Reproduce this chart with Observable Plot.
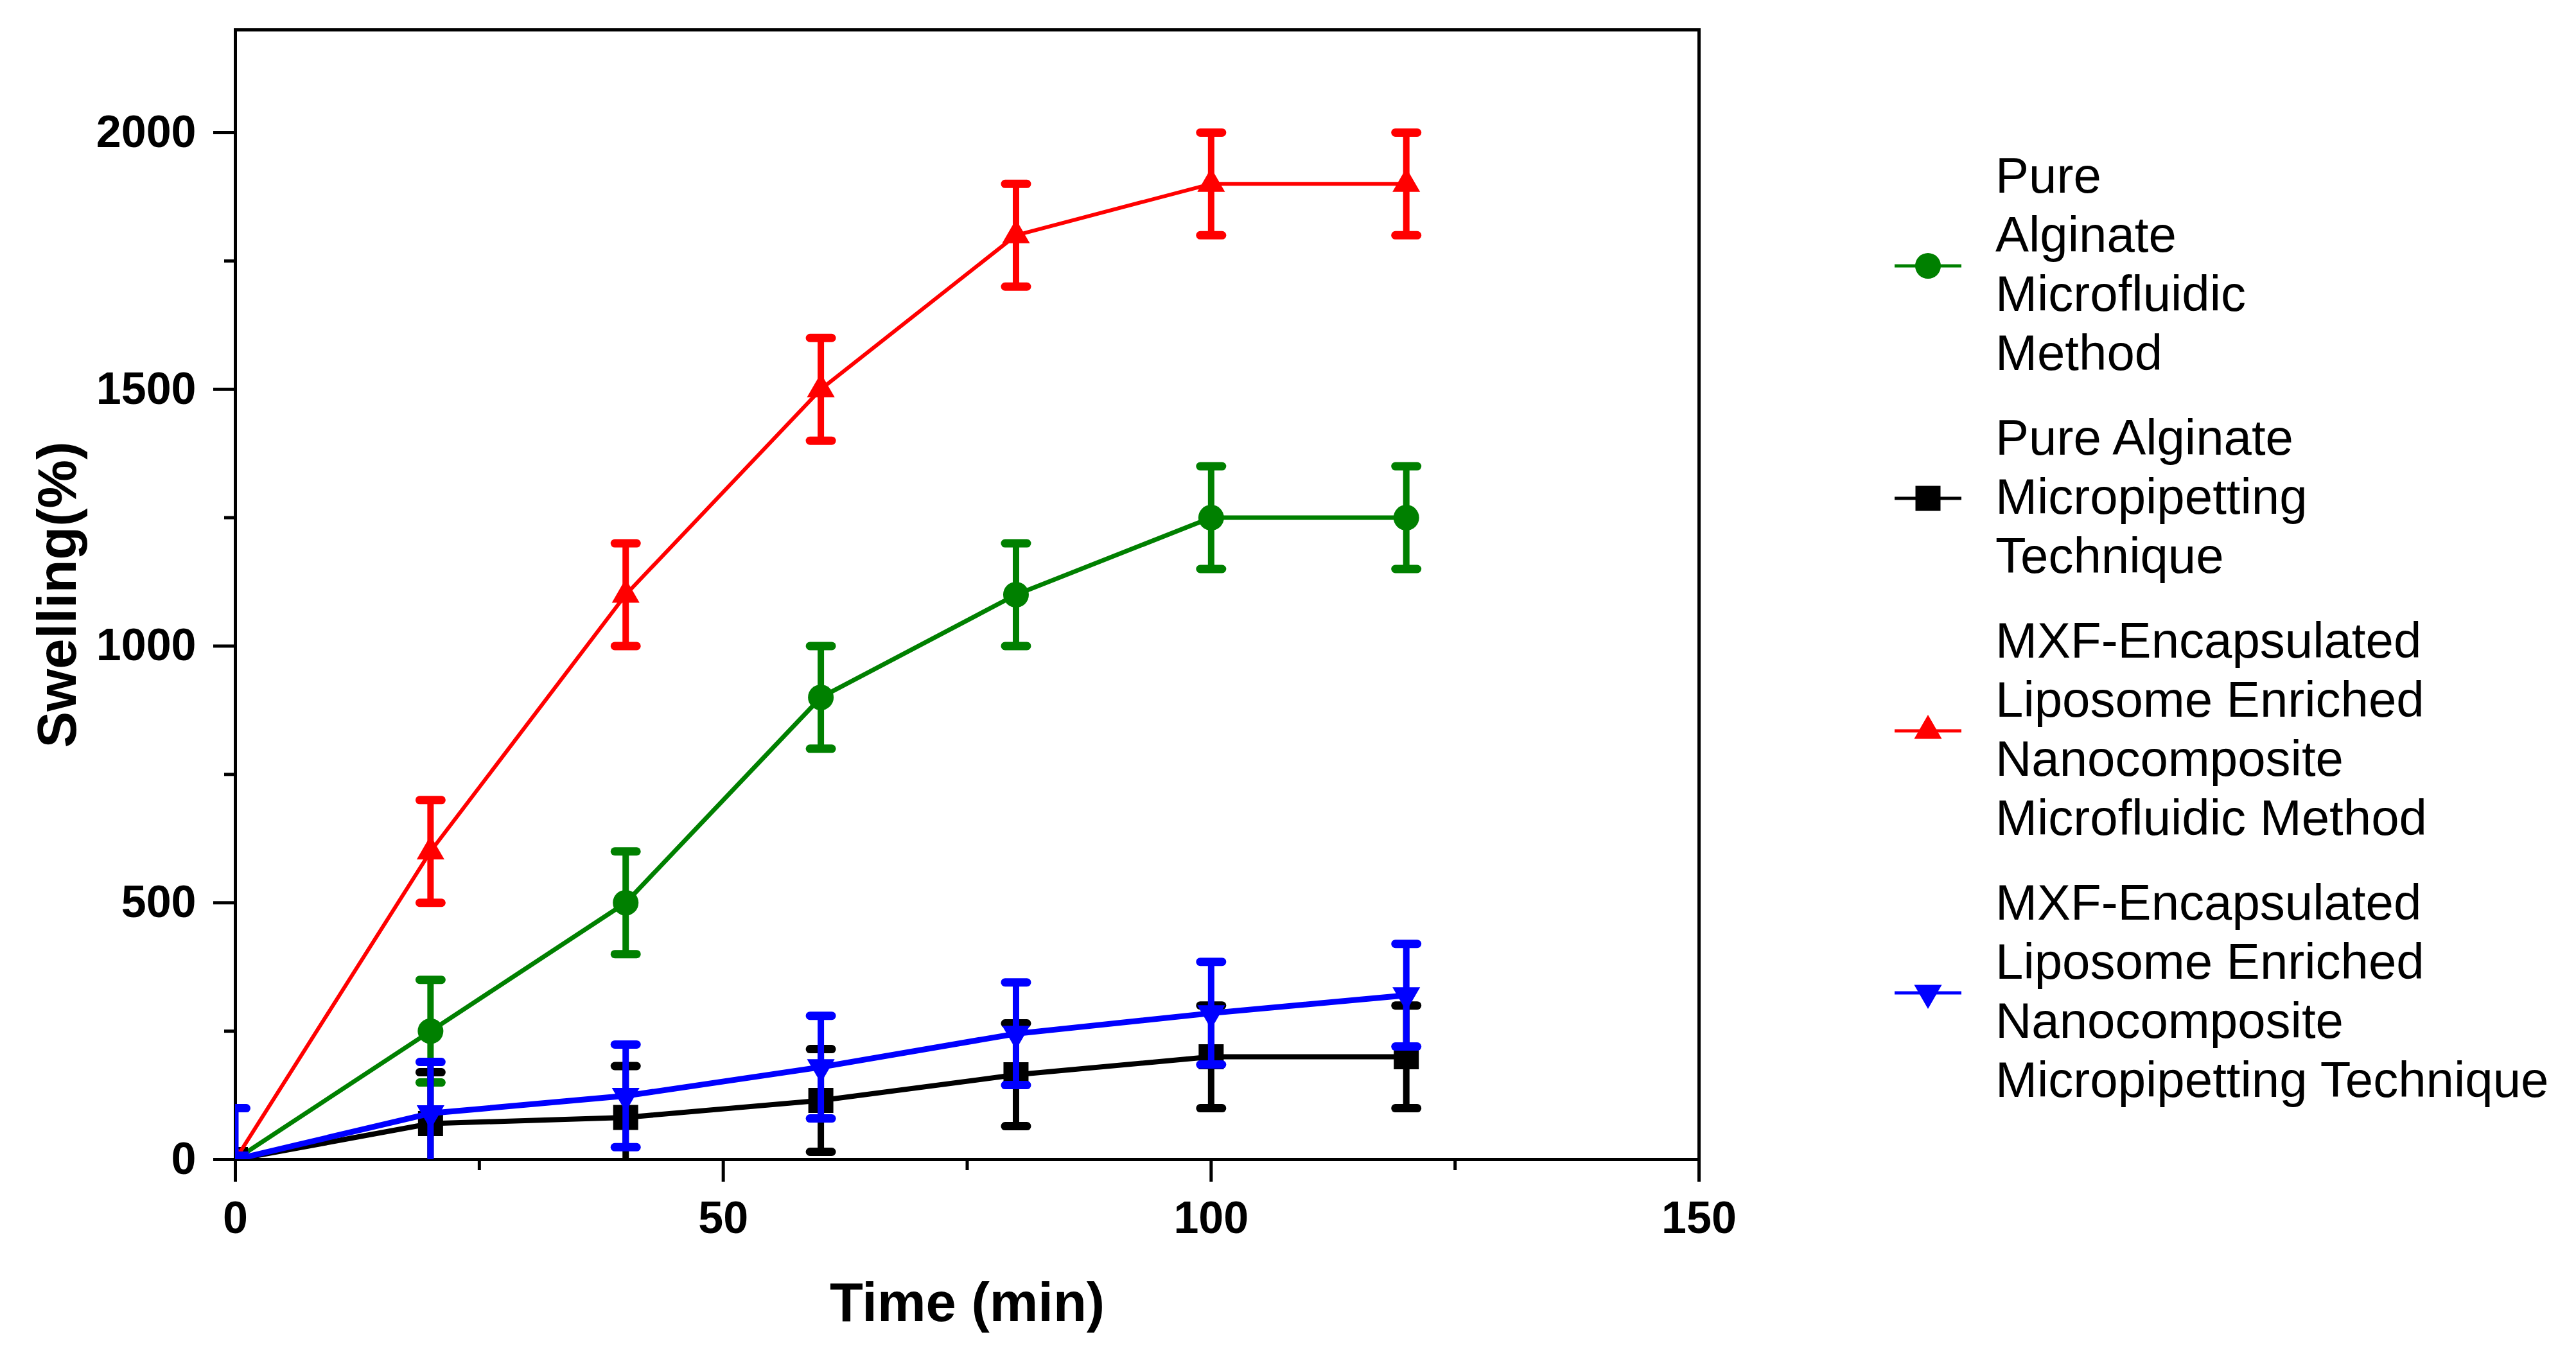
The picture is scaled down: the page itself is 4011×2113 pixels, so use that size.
<!DOCTYPE html>
<html lang="en">
<head>
<meta charset="UTF-8">
<title>Swelling vs time</title>
<script src="https://cdn.jsdelivr.net/npm/d3@7"></script>
<script src="https://cdn.jsdelivr.net/npm/@observablehq/plot@0.6"></script>
<style>
  body { margin: 0; background: white; }
  #chart { position: relative; width: 4011px; height: 2113px; font-family: "Liberation Sans", Arial, Helvetica, sans-serif; }
  #legend { position: absolute; left: 2950px; top: 227px; }
  .entry { display: flex; align-items: center; margin-bottom: 40px; }
  .entry svg { flex: none; margin-top: 6px; }
  .entry .label { margin-left: 53px; font-size: 78px; line-height: 92px; color: black; white-space: nowrap; }
</style>
</head>
<body>
<div id="chart"><div id="legend"></div></div>

<script>
// time points (min)
const time = [0, 20, 40, 60, 80, 100, 120];

// swelling (%), with error bars (+/-)
const pureMicrofluidic = [0, 250, 500, 900, 1100, 1250, 1250];
const pureMicrofluidicErr = [0, 100, 100, 100, 100, 100, 100];

const pureMicropipetting = [0, 70, 82, 115, 165, 200, 200];
const pureMicropipettingErr = [0, 100, 100, 100, 100, 100, 100];

const mxfMicrofluidic = [0, 600, 1100, 1500, 1800, 1900, 1900];
const mxfMicrofluidicErr = [0, 100, 100, 100, 100, 100, 100];

const mxfMicropipetting = [0, 90, 124, 180, 245, 285, 320];
const mxfMicropipettingErr = [100, 100, 100, 100, 100, 100, 100];

// legend text, broken as in the figure
const legendLines = [
  ["Pure", "Alginate", "Microfluidic", "Method"],
  ["Pure Alginate", "Micropipetting", "Technique"],
  ["MXF-Encapsulated", "Liposome Enriched", "Nanocomposite", "Microfluidic Method"],
  ["MXF-Encapsulated", "Liposome Enriched", "Nanocomposite", "Micropipetting Technique"]
];

const xTicks = [0, 50, 100, 150];
const xMinor = [25, 75, 125];
const yTicks = [0, 500, 1000, 1500, 2000];
const yMinor = [250, 750, 1250, 1750];

const series = [
  {values: pureMicrofluidic, errors: pureMicrofluidicErr, color: "#008000", symbol: "circle", r: 20, rotate: 0, lineWidth: 7},
  {values: pureMicropipetting, errors: pureMicropipettingErr, color: "#000000", symbol: "square", r: 22, rotate: 0, lineWidth: 8},
  {values: mxfMicrofluidic, errors: mxfMicrofluidicErr, color: "#ff0000", symbol: "triangle", r: 16, rotate: 0, lineWidth: 6},
  {values: mxfMicropipetting, errors: mxfMicropipettingErr, color: "#0000ff", symbol: "triangle", r: 16, rotate: 180, lineWidth: 9}
];
series.forEach((s, k) => {
  s.lines = legendLines[k];
  s.rows = time.map((t, i) => ({time: t, value: s.values[i], err: s.errors[i]}));
});

// horizontal bar used as error-bar cap
const capSymbol = {
  draw(context, size) {
    const w = Math.sqrt(size / Math.PI);
    context.moveTo(-w, 0);
    context.lineTo(w, 0);
  }
};

const marks = [
  Plot.frame({stroke: "black", strokeWidth: 5}),
  Plot.axisY(yTicks, {tickSize: 34, tickPadding: 27, tickFormat: "d", strokeWidth: 5, fontSize: 70, fontWeight: "bold", label: null}),
  Plot.axisY(yMinor, {tickSize: 17, tickFormat: () => "", strokeWidth: 5, label: null}),
  Plot.axisX(xTicks, {tickSize: 35, tickPadding: 30, tickFormat: "d", strokeWidth: 5, fontSize: 70, fontWeight: "bold", label: null}),
  Plot.axisX(xMinor, {tickSize: 17, tickFormat: () => "", strokeWidth: 5, label: null}),
  Plot.text(["Time (min)"], {text: d => d, frameAnchor: "bottom", lineAnchor: "middle", textAnchor: "middle", dy: 224, fontSize: 85, fontWeight: "bold"}),
  Plot.text(["Swelling(%)"], {text: d => d, frameAnchor: "left", lineAnchor: "middle", textAnchor: "middle", rotate: -90, dx: -276, fontSize: 85, fontWeight: "bold"})
];

series.forEach(s => {
  const bars = s.rows.filter(d => d.err > 0);
  marks.push(
    Plot.line(s.rows, {x: "time", y: "value", stroke: s.color, strokeWidth: s.lineWidth, clip: true}),
    Plot.ruleX(bars, {x: "time", y1: d => d.value - d.err, y2: d => d.value + d.err, stroke: s.color, strokeWidth: 10, clip: true}),
    Plot.dot(bars, {x: "time", y: d => d.value + d.err, symbol: capSymbol, r: 17, fill: "none", stroke: s.color, strokeWidth: 13, strokeLinecap: "round", clip: true}),
    Plot.dot(bars, {x: "time", y: d => d.value - d.err, symbol: capSymbol, r: 17, fill: "none", stroke: s.color, strokeWidth: 13, strokeLinecap: "round", clip: true}),
    Plot.dot(s.rows, {x: "time", y: "value", symbol: s.symbol, r: s.r, rotate: s.rotate, fill: s.color, stroke: "none", clip: true})
  );
});

const chart = Plot.plot({
  width: 4011,
  height: 2113,
  marginLeft: 366,
  marginRight: 1366,
  marginTop: 46,
  marginBottom: 308,
  style: {fontFamily: "'Liberation Sans', Arial, Helvetica, sans-serif", fontSize: "70px", color: "black", background: "white"},
  x: {domain: [0, 150]},
  y: {domain: [0, 2200]},
  marks
});
document.getElementById("chart").prepend(chart);

// legend: swatch (line + marker) and wrapped label
const symbolTypes = {circle: d3.symbolCircle, square: d3.symbolSquare, triangle: d3.symbolTriangle};
const legend = d3.select("#legend");
series.forEach(s => {
  const entry = legend.append("div").attr("class", "entry");
  const svg = entry.append("svg").attr("width", 104).attr("height", 60);
  svg.append("line")
    .attr("x1", 0).attr("x2", 104).attr("y1", 30).attr("y2", 30)
    .attr("stroke", s.color).attr("stroke-width", 5);
  svg.append("path")
    .attr("d", d3.symbol(symbolTypes[s.symbol], Math.PI * s.r * s.r)())
    .attr("transform", `translate(52,30) rotate(${s.rotate})`)
    .attr("fill", s.color);
  entry.append("div").attr("class", "label").html(s.lines.join("<br>"));
});
</script>
</body>
</html>
